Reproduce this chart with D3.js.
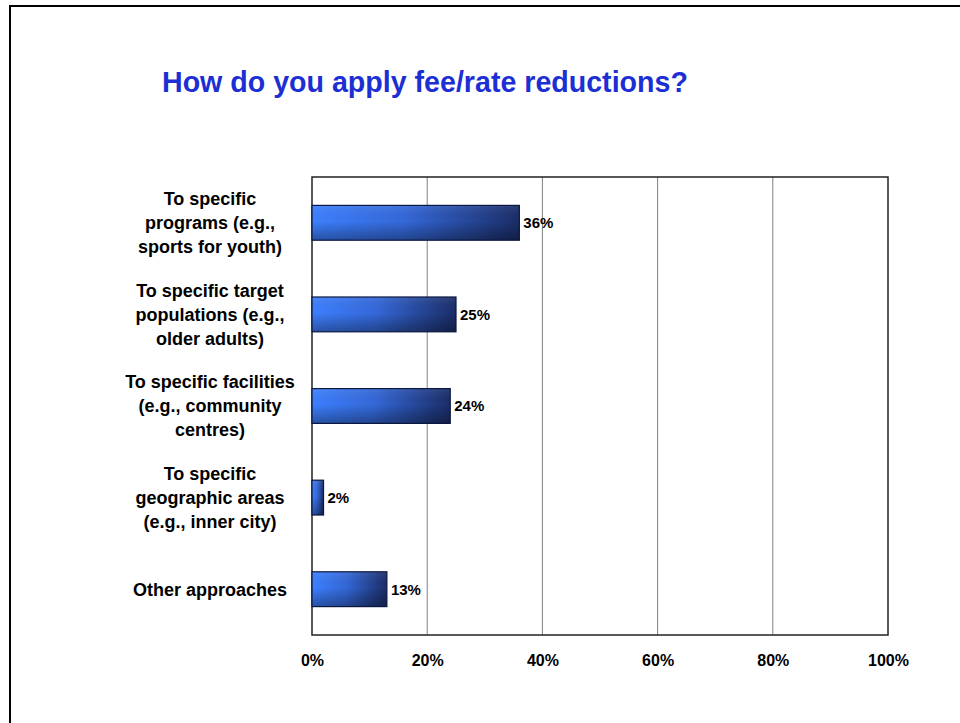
<!DOCTYPE html>
<html>
<head>
<meta charset="utf-8">
<script src="https://cdn.jsdelivr.net/npm/d3@7"></script>
<style>
  html, body { margin: 0; padding: 0; background: #fff; }
  svg { display: block; font-family: "Liberation Sans", Arial, sans-serif; }
</style>
</head>
<body>
<svg id="chart" width="960" height="723"></svg>
<script>
// Survey responses: share of respondents per approach
const categories = [
  ["To specific", "programs (e.g.,", "sports for youth)"],
  ["To specific target", "populations (e.g.,", "older adults)"],
  ["To specific facilities", "(e.g., community", "centres)"],
  ["To specific", "geographic areas", "(e.g., inner city)"],
  ["Other approaches"]
];
const values = [36, 25, 24, 2, 13];
const valueLabels = ["36%", "25%", "24%", "2%", "13%"];
const tickValues = [0, 20, 40, 60, 80, 100];
const titleText = "How do you apply fee/rate reductions?";

const svg = d3.select("#chart");

// Outer frame (only top and left edges fall inside the view)
svg.append("rect")
  .attr("x", 10).attr("y", 6)
  .attr("width", 980).attr("height", 760)
  .attr("fill", "none").attr("stroke", "#000").attr("stroke-width", 2);

svg.append("text")
  .attr("x", 162).attr("y", 92)
  .attr("fill", "#1c2fd4")
  .attr("font-size", 28.6).attr("font-weight", "bold")
  .text(titleText);

const plot = { left: 312, top: 177, right: 888, bottom: 635 };

const x = d3.scaleLinear().domain([0, 100]).range([plot.left, plot.right]);
const y = d3.scaleBand()
  .domain(d3.range(categories.length))
  .range([plot.top, plot.bottom])
  .paddingInner(0.62).paddingOuter(0.31);

// Bar shading
const defs = svg.append("defs");
const hg = defs.append("linearGradient").attr("id", "barH")
  .attr("x1", "0").attr("x2", "1").attr("y1", "0").attr("y2", "0");
hg.append("stop").attr("offset", "0%").attr("stop-color", "#3d80ff");
hg.append("stop").attr("offset", "45%").attr("stop-color", "#3468d8");
hg.append("stop").attr("offset", "100%").attr("stop-color", "#1b2d68");
const vg = defs.append("linearGradient").attr("id", "barV")
  .attr("x1", "0").attr("x2", "0").attr("y1", "0").attr("y2", "1");
vg.append("stop").attr("offset", "0%").attr("stop-color", "#fff").attr("stop-opacity", 0.08);
vg.append("stop").attr("offset", "45%").attr("stop-color", "#000").attr("stop-opacity", 0);
vg.append("stop").attr("offset", "100%").attr("stop-color", "#000").attr("stop-opacity", 0.35);

// Vertical gridlines
svg.append("g")
  .selectAll("line")
  .data(tickValues.slice(1, -1))
  .join("line")
  .attr("x1", d => x(d)).attr("x2", d => x(d))
  .attr("y1", plot.top).attr("y2", plot.bottom)
  .attr("stroke", "#808080").attr("stroke-width", 1);

// Plot frame
svg.append("rect")
  .attr("x", plot.left).attr("y", plot.top)
  .attr("width", plot.right - plot.left).attr("height", plot.bottom - plot.top)
  .attr("fill", "none").attr("stroke", "#222").attr("stroke-width", 1.5);

// Bars
const bars = svg.append("g").selectAll("g").data(values).join("g");
bars.append("rect")
  .attr("x", x(0)).attr("y", (d, i) => y(i))
  .attr("width", d => x(d) - x(0)).attr("height", y.bandwidth())
  .attr("fill", "url(#barH)");
bars.append("rect")
  .attr("x", x(0)).attr("y", (d, i) => y(i))
  .attr("width", d => x(d) - x(0)).attr("height", y.bandwidth())
  .attr("fill", "url(#barV)")
  .attr("stroke", "#0b1840").attr("stroke-width", 1.2);

// Value labels
bars.append("text")
  .attr("x", d => x(d) + 4)
  .attr("y", (d, i) => y(i) + y.bandwidth() / 2)
  .attr("dy", "0.36em")
  .attr("font-size", 15).attr("font-weight", "bold").attr("fill", "#000")
  .text((d, i) => valueLabels[i]);

// Category labels
const lineH = 24;
svg.append("g").selectAll("text")
  .data(categories)
  .join("text")
  .attr("text-anchor", "middle")
  .attr("font-size", 18).attr("font-weight", "bold").attr("fill", "#000")
  .each(function(lines, i) {
    const cy = y(i) + y.bandwidth() / 2;
    const t = d3.select(this);
    lines.forEach((ln, k) => {
      t.append("tspan")
        .attr("x", 210)
        .attr("y", cy + (k - (lines.length - 1) / 2) * lineH)
        .attr("dy", "0.36em")
        .text(ln);
    });
  });

// X axis tick labels
const xAxis = d3.axisBottom(x)
  .tickValues(tickValues)
  .tickFormat(d => d + "%")
  .tickSize(0).tickPadding(20);
const ax = svg.append("g")
  .attr("transform", `translate(0,${plot.bottom})`)
  .call(xAxis);
ax.select(".domain").remove();
ax.selectAll("text")
  .attr("font-family", "\"Liberation Sans\", Arial, sans-serif")
  .attr("font-size", 16).attr("font-weight", "bold").attr("fill", "#000");
</script>
</body>
</html>
